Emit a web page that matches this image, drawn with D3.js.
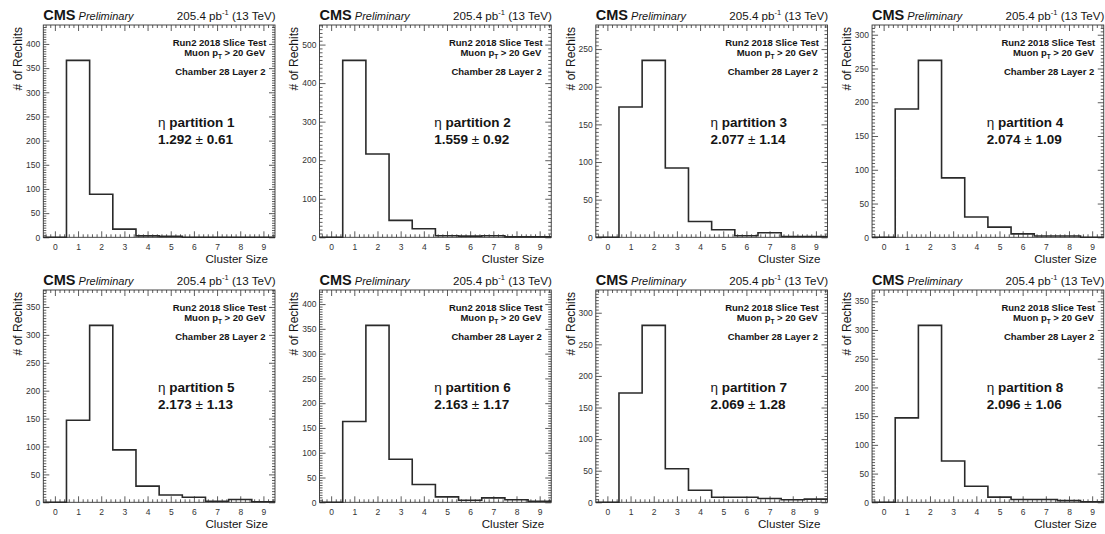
<!DOCTYPE html>
<html>
<head>
<meta charset="utf-8">
<script src="https://cdn.jsdelivr.net/npm/d3@7"></script>
<style>
  html, body { margin: 0; padding: 0; background: #fff; }
  svg { display: block; font-family: "Liberation Sans", Arial, Helvetica, sans-serif; }
</style>
</head>
<body>
<script>
// ---------- data ----------
const clusterSizes = [0, 1, 2, 3, 4, 5, 6, 7, 8, 9];
const partitions = [1, 2, 3, 4, 5, 6, 7, 8];
const meanLabels = ["1.292", "1.559", "2.077", "2.074", "2.173", "2.163", "2.069", "2.096"];
const rmsLabels  = ["0.61", "0.92", "1.14", "1.09", "1.13", "1.17", "1.28", "1.06"];

const counts1 = [0, 366, 89, 17, 3, 2, 0, 0, 0, 0];
const counts2 = [0, 459, 216, 44, 22, 4, 3, 4, 1, 1];
const counts3 = [0, 173, 235, 92, 21, 10, 2, 6, 1, 1];
const counts4 = [0, 190, 262, 88, 30, 15, 5, 2, 2, 0];
const counts5 = [0, 147, 317, 94, 29, 13, 9, 2, 5, 1];
const counts6 = [0, 163, 357, 87, 36, 11, 4, 9, 5, 2];
const counts7 = [0, 173, 280, 53, 19, 8, 8, 6, 4, 5];
const counts8 = [0, 147, 308, 72, 28, 9, 5, 5, 3, 1];
const allCounts = [counts1, counts2, counts3, counts4, counts5, counts6, counts7, counts8];

const yMajorStep = [50, 100, 50, 50, 50, 50, 50, 50];
const xAxisTitle = "Cluster Size";
const yAxisTitle = "# of Rechits";

// ---------- drawing ----------
const W = 1105, H = 534;
const svg = d3.select("body").append("svg").attr("width", W).attr("height", H);

const panelW = W / 4, panelH = 265;
const fL = 43.3, fR = 275, fT = 25, fB = 237.3;
const ink = "#151515";

partitions.forEach((p, i) => {
  const col = i % 4, row = Math.floor(i / 4);
  const g = svg.append("g").attr("transform", `translate(${col * panelW},${row * panelH})`);
  const data = allCounts[i];
  const yMax = d3.max(data) * 1.2;
  const step = yMajorStep[i];

  const x = d3.scaleLinear().domain([-0.5, 9.5]).range([fL, fR]);
  const y = d3.scaleLinear().domain([0, yMax]).range([fB, fT]);

  const yMajor = d3.range(0, yMax + 1e-9, step);
  const yMinor = d3.range(0, yMax + 1e-9, step / 10).filter(v => Math.abs(v / step - Math.round(v / step)) > 1e-6);
  const xMinor = d3.range(-0.4, 9.5, 0.2).filter(v => Math.abs(v - Math.round(v)) > 1e-6);

  const styleAxis = sel => {
    sel.select(".domain").remove();
    sel.selectAll(".tick line").attr("stroke", "#333").attr("stroke-width", 0.8);
    sel.selectAll(".tick text").attr("fill", "#333").style("font-size", "8.5px")
      .style("font-family", '"Liberation Sans", Arial, sans-serif');
  };

  // bottom axis
  g.append("g").attr("transform", `translate(0,${fB})`)
    .call(d3.axisBottom(x).tickValues(clusterSizes).tickSize(-6).tickPadding(7).tickFormat(d3.format("d")))
    .call(styleAxis);
  g.append("g").attr("transform", `translate(0,${fB})`)
    .call(d3.axisBottom(x).tickValues(xMinor).tickSize(-3).tickFormat(""))
    .call(styleAxis);
  // top axis
  g.append("g").attr("transform", `translate(0,${fT})`)
    .call(d3.axisTop(x).tickValues(clusterSizes).tickSize(-6).tickFormat(""))
    .call(styleAxis);
  g.append("g").attr("transform", `translate(0,${fT})`)
    .call(d3.axisTop(x).tickValues(xMinor).tickSize(-3).tickFormat(""))
    .call(styleAxis);
  // left axis
  g.append("g").attr("transform", `translate(${fL},0)`)
    .call(d3.axisLeft(y).tickValues(yMajor).tickSize(-6).tickPadding(3).tickFormat(d3.format("d")))
    .call(styleAxis);
  g.append("g").attr("transform", `translate(${fL},0)`)
    .call(d3.axisLeft(y).tickValues(yMinor).tickSize(-3).tickFormat(""))
    .call(styleAxis);
  // right axis
  g.append("g").attr("transform", `translate(${fR},0)`)
    .call(d3.axisRight(y).tickValues(yMajor).tickSize(-6).tickFormat(""))
    .call(styleAxis);
  g.append("g").attr("transform", `translate(${fR},0)`)
    .call(d3.axisRight(y).tickValues(yMinor).tickSize(-3).tickFormat(""))
    .call(styleAxis);

  // frame
  g.append("rect").attr("x", fL).attr("y", fT).attr("width", fR - fL).attr("height", fB - fT)
    .attr("fill", "none").attr("stroke", "#333").attr("stroke-width", 0.9);

  // histogram outline
  const pts = [];
  data.forEach((v, k) => { pts.push([clusterSizes[k] - 0.5, v]); pts.push([clusterSizes[k] + 0.5, v]); });
  g.append("path")
    .attr("d", d3.line().x(d => x(d[0])).y(d => y(d[1]))(pts))
    .attr("fill", "none").attr("stroke", "#2a2a2a").attr("stroke-width", 1.6);

  // header
  const hdr = g.append("text").attr("x", fL).attr("y", 19.5).attr("fill", ink);
  hdr.append("tspan").text("CMS").style("font-weight", "bold").style("font-size", "14.5px");
  hdr.append("tspan").text(" Preliminary").style("font-style", "italic").style("font-size", "11px");

  const lumi = g.append("text").attr("x", fR + 0.5).attr("y", 19.5).attr("text-anchor", "end")
    .attr("fill", ink).style("font-size", "11.6px");
  lumi.append("tspan").text("205.4 pb");
  lumi.append("tspan").text("-1").style("font-size", "7.5px").attr("dy", -5);
  lumi.append("tspan").text(" (13 TeV)").attr("dy", 5);

  // inner info
  const info = g.append("g").attr("fill", ink).style("font-weight", "bold").style("font-size", "9.5px");
  info.append("text").attr("x", 266.5).attr("y", 45.5).attr("text-anchor", "end").text("Run2 2018 Slice Test");
  const mu = info.append("text").attr("x", 265).attr("y", 56).attr("text-anchor", "end");
  mu.append("tspan").text("Muon p");
  mu.append("tspan").text("T").style("font-size", "6.5px").attr("dy", 2.5);
  mu.append("tspan").text(" > 20 GeV").attr("dy", -2.5);
  info.append("text").attr("x", 265.5).attr("y", 74.5).attr("text-anchor", "end").text("Chamber 28 Layer 2");

  const t1 = g.append("text").attr("x", 158).attr("y", 127).attr("fill", ink).style("font-size", "13.5px");
  t1.append("tspan").text("η ");
  t1.append("tspan").text(`partition ${p}`).style("font-weight", "bold");
  const t2 = g.append("text").attr("x", 158).attr("y", 143.5).attr("fill", ink).style("font-size", "13.5px");
  t2.append("tspan").text(meanLabels[i]).style("font-weight", "bold");
  t2.append("tspan").text(" ± ");
  t2.append("tspan").text(rmsLabels[i]).style("font-weight", "bold");

  // axis titles
  g.append("text").attr("x", 268).attr("y", 263).attr("text-anchor", "end").attr("fill", ink)
    .style("font-size", "11.6px").text(xAxisTitle);
  g.append("text").attr("transform", `translate(22,${fT + 2}) rotate(-90)`).attr("text-anchor", "end")
    .attr("fill", ink).style("font-size", "12px").text(yAxisTitle);
});
</script>
</body>
</html>
